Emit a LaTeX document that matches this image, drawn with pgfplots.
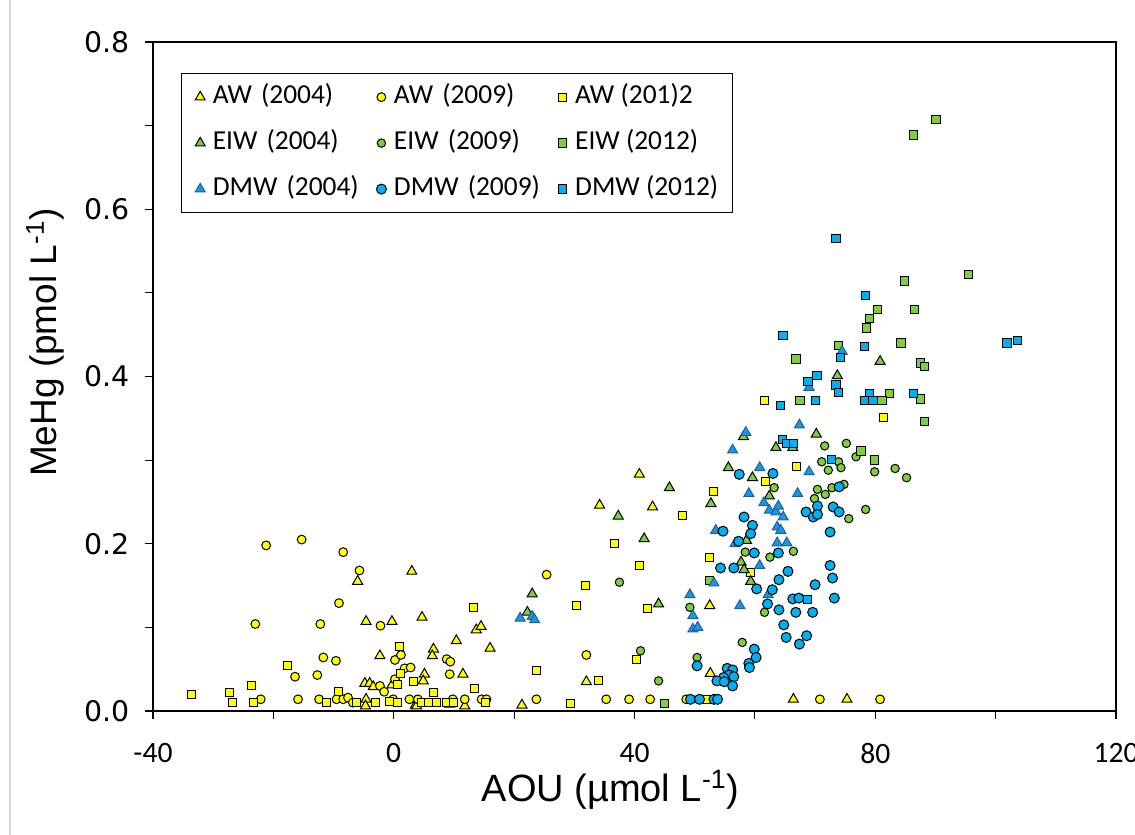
\documentclass[border=0pt]{standalone}
\usepackage{pgfplots}
\pgfplotsset{compat=1.18}
\usepackage{fontspec}
\setmainfont{Liberation Sans}
\newfontfamily\carlito{Carlito}
\newfontfamily\dejavu{DejaVu Sans}
\definecolor{ylw}{RGB}{255,255,0}
\definecolor{grn}{RGB}{128,206,60}
\definecolor{blu}{RGB}{0,176,240}
\definecolor{tblu}{RGB}{28,150,220}
\definecolor{tbluedge}{RGB}{30,95,160}
\definecolor{frame}{RGB}{217,217,217}
\begin{document}
\begin{tikzpicture}
\begin{axis}[
  scale only axis, width=481.5pt, height=334.5pt,
  xmin=-40, xmax=120, ymin=0, ymax=0.8,
  clip=false,
  axis line style={line width=0.6pt},
  tick style={line width=0.6pt, black},
  tick align=outside, tick pos=left, major tick length=4pt,
  xtick={-40,-20,...,120}, xticklabels={-40,,0,,40,,80,,120},
  ytick={0,0.1,...,0.8}, yticklabels={0.0,,0.2,,0.4,,0.6,,0.8},
  /pgf/number format/assume math mode=true,
  xticklabel style={font=\carlito\fontsize{14.8pt}{17pt}\selectfont, anchor=center, yshift=-17pt},
  yticklabel style={font=\dejavu\fontsize{14.2pt}{16pt}\selectfont, anchor=east, xshift=-4pt},
  xlabel={AOU (µmol L\textsuperscript{-1})},
  ylabel={MeHg (pmol L\textsuperscript{-1})},
  xlabel style={font=\fontsize{19pt}{22pt}\selectfont, at={([xshift=-12pt]rel axis cs:0.5,0)}, anchor=center, yshift=-39.5pt},
  ylabel style={font=\fontsize{18.5pt}{22pt}\selectfont, at={([xshift=-54pt,yshift=17pt]rel axis cs:0,0.5)}, anchor=center},
  legend columns=3,
  legend image code/.code={\path (0pt,0pt) (8pt,0pt); \draw[#1] plot coordinates {(4pt,0pt)};},
  legend style={at={(rel axis cs:0,1)}, anchor=north west, xshift=14pt, yshift=-15.5pt,
    draw=black, line width=0.6pt, inner xsep=5pt, inner ysep=3pt, row sep=5.5pt,
    font=\carlito\fontsize{13.7pt}{16pt}\selectfont,
    nodes={inner xsep=2pt, inner ysep=2pt, text height=10pt, text depth=3.5pt, text width=78pt, align=left},
    /tikz/column 6/.style={nodes={text width={}, anchor=west}}},
]
% AW (2004)
\addplot[only marks, mark=triangle*, mark size=2.9pt, mark options={fill=ylw, draw=black, line width=0.5pt}] coordinates {
(-6.0,0.155) (3.0,0.167) (-4.6,0.107) (-0.3,0.107) (4.7,0.112) (-2.3,0.066) (10.4,0.084) (13.7,0.097) (14.5,0.101) (6.6,0.074) (6.4,0.066) (16.0,0.075) (5.1,0.044) (4.9,0.036) (11.5,0.044) (-4.8,0.033) (-4.0,0.033) (-3.4,0.029) (-0.3,0.031) (-4.6,0.014) (-4.7,0.006) (3.6,0.007) (9.3,0.008) (11.8,0.006) (21.3,0.007) (3.8,0.006) (32.0,0.035) (40.8,0.283) (34.2,0.246) (43.0,0.244) (52.5,0.126) (52.6,0.045) (66.4,0.014) (75.3,0.014)};
\addlegendentry{AW (2004)}
% AW (2009)
\addplot[only marks, mark=*, mark size=2.2pt, mark options={fill=ylw, draw=black, line width=0.5pt}] coordinates {
(-21.2,0.198) (-15.3,0.205) (-8.4,0.190) (-5.7,0.168) (-9.1,0.129) (-23.0,0.104) (-12.2,0.104) (-2.2,0.102) (-11.7,0.064) (-9.6,0.060) (-16.4,0.041) (-12.7,0.043) (0.2,0.061) (1.2,0.067) (1.8,0.051) (2.8,0.052) (0.2,0.038) (-2.3,0.030) (-1.6,0.023) (8.8,0.062) (9.4,0.059) (9.3,0.044) (-22.1,0.014) (-15.9,0.014) (-12.4,0.014) (-9.5,0.014) (-8.4,0.014) (-7.6,0.016) (-6.8,0.010) (-0.1,0.014) (2.6,0.014) (4.0,0.014) (9.8,0.014) (11.8,0.014) (14.6,0.014) (15.4,0.014) (23.7,0.014) (25.4,0.163) (32.0,0.067) (35.3,0.014) (39.1,0.014) (42.6,0.014) (48.6,0.014) (70.8,0.014) (80.8,0.014)};
\addlegendentry{AW (2009)}
% AW (2012)
\addplot[only marks, mark=square*, mark size=2.0pt, mark options={fill=ylw, draw=black, line width=0.5pt}] coordinates {
(-33.6,0.020) (-27.3,0.022) (-26.8,0.010) (-23.7,0.030) (-23.3,0.010) (-17.7,0.055) (-11.1,0.010) (-9.2,0.023) (-6.2,0.010) (-3.0,0.010) (-0.7,0.011) (0.6,0.010) (0.9,0.077) (1.2,0.045) (0.55,0.032) (3.2,0.035) (6.6,0.022) (4.6,0.010) (5.7,0.010) (7.1,0.010) (8.7,0.010) (9.9,0.010) (13.2,0.124) (13.4,0.027) (15.2,0.010) (23.7,0.048) (29.4,0.009) (34.1,0.036) (40.3,0.062) (30.3,0.126) (31.9,0.150) (40.8,0.174) (36.7,0.200) (48.0,0.234) (53.2,0.262) (42.2,0.122) (52.4,0.184) (59.3,0.166) (61.8,0.275) (66.9,0.292) (61.6,0.371) (81.3,0.351) (52.0,0.014)};
\addlegendentry{AW (201)2}
% EIW (2004)
\addplot[only marks, mark=triangle*, mark size=2.9pt, mark options={fill=grn, draw=black, line width=0.5pt}] coordinates {
(23.0,0.140) (22.2,0.118) (37.3,0.233) (45.8,0.267) (41.6,0.206) (52.7,0.248) (55.6,0.291) (44.0,0.128) (58.1,0.328) (59.6,0.279) (62.4,0.257) (63.5,0.315) (66.3,0.315) (70.2,0.331) (58.6,0.204) (57.7,0.178) (58.2,0.169) (59.3,0.155) (73.7,0.401) (80.8,0.418)};
\addlegendentry{EIW (2004)}
% EIW (2009)
\addplot[only marks, mark=*, mark size=2.1pt, mark options={fill=grn, draw=black, line width=0.5pt}] coordinates {
(37.5,0.154) (49.2,0.124) (41.0,0.072) (44.0,0.036) (50.4,0.064) (57.9,0.082) (61.6,0.118) (58.4,0.190) (62.5,0.184) (66.4,0.191) (63.2,0.267) (71.6,0.317) (75.2,0.320) (76.8,0.304) (71.1,0.298) (72.2,0.288) (73.9,0.298) (74.3,0.291) (70.4,0.265) (69.9,0.254) (71.7,0.259) (72.8,0.267) (74.8,0.271) (75.6,0.230) (78.4,0.241) (79.9,0.286) (83.3,0.290) (85.2,0.279)};
\addlegendentry{EIW (2009)}
% EIW (2012)
\addplot[only marks, mark=square*, mark size=2.1pt, mark options={fill=grn, draw=black, line width=0.5pt}] coordinates {
(45.0,0.009) (52.5,0.156) (67.5,0.371) (77.6,0.311) (79.9,0.300) (90.1,0.707) (86.4,0.689) (95.5,0.522) (84.9,0.514) (80.4,0.480) (86.5,0.480) (79.0,0.469) (78.5,0.458) (73.9,0.437) (84.3,0.440) (66.8,0.421) (87.5,0.416) (88.2,0.412) (82.4,0.380) (81.1,0.371) (87.5,0.373) (88.2,0.346)};
\addlegendentry{EIW (2012)}
% DMW (2004)
\addplot[only marks, mark=triangle*, mark size=2.9pt, mark options={fill=tblu, draw=tbluedge, line width=0.5pt}] coordinates {
(21.0,0.111) (23.0,0.113) (23.4,0.109) (49.2,0.139) (49.7,0.114) (49.7,0.098) (50.5,0.100) (53.2,0.153) (57.5,0.126) (53.5,0.216) (56.3,0.312) (58.5,0.333) (59.0,0.260) (56.7,0.200) (60.8,0.291) (61.5,0.249) (62.4,0.240) (63.5,0.238) (63.9,0.245) (64.7,0.232) (63.7,0.220) (64.3,0.216) (63.7,0.201) (65.3,0.201) (60.8,0.174) (62.2,0.139) (67.1,0.260) (69.0,0.286) (67.4,0.342) (69.0,0.387) (74.5,0.430)};
\addlegendentry{DMW (2004)}
% DMW (2009)
\addplot[only marks, mark=*, mark size=2.5pt, mark options={fill=blu, draw=black, line width=0.5pt}] coordinates {
(57.4,0.283) (63.0,0.284) (58.2,0.232) (59.6,0.222) (59.3,0.212) (54.7,0.215) (57.3,0.203) (59.9,0.189) (54.3,0.171) (56.5,0.171) (63.9,0.189) (65.5,0.167) (64.0,0.157) (60.3,0.146) (62.9,0.145) (62.1,0.128) (64.0,0.121) (66.3,0.134) (67.3,0.135) (66.8,0.118) (69.6,0.118) (64.8,0.103) (65.2,0.088) (67.4,0.080) (68.6,0.090) (70.0,0.151) (72.5,0.174) (72.9,0.159) (73.2,0.135) (72.5,0.214) (68.5,0.238) (69.7,0.232) (70.4,0.245) (70.4,0.235) (73.0,0.244) (74.0,0.238) (74.0,0.268) (50.4,0.054) (55.4,0.051) (56.3,0.049) (55.7,0.043) (54.8,0.040) (56.5,0.041) (53.7,0.036) (54.9,0.035) (56.3,0.030) (59.0,0.057) (59.1,0.052) (59.9,0.074) (60.2,0.064) (49.3,0.014) (50.8,0.014) (53.2,0.014) (53.8,0.014)};
\addlegendentry{DMW (2009)}
% DMW (2012)
\addplot[only marks, mark=square*, mark size=2.1pt, mark options={fill=blu, draw=black, line width=0.5pt}] coordinates {
(73.5,0.565) (78.4,0.497) (64.7,0.449) (78.2,0.436) (74.2,0.423) (68.8,0.394) (70.3,0.401) (73.5,0.390) (73.9,0.381) (64.3,0.365) (70.1,0.371) (79.0,0.380) (78.2,0.371) (79.6,0.371) (86.4,0.380) (101.9,0.440) (103.6,0.443) (72.7,0.301) (64.6,0.325) (65.3,0.320) (66.4,0.320) (68.7,0.133)};
\addlegendentry{DMW (2012)}
\coordinate (sw) at (rel axis cs:0,0);
\coordinate (ne) at (rel axis cs:1,1);
\end{axis}
\draw[frame, line width=0.6pt] ([shift={(-71.5pt,-62pt)}]sw) -- ([shift={(-71.5pt,21pt)}]sw |- ne);
\pgfresetboundingbox
\path[use as bounding box] ([shift={(-76.5pt,-62pt)}]sw) rectangle ([shift={(9.5pt,21pt)}]ne);
\end{tikzpicture}
\end{document}
